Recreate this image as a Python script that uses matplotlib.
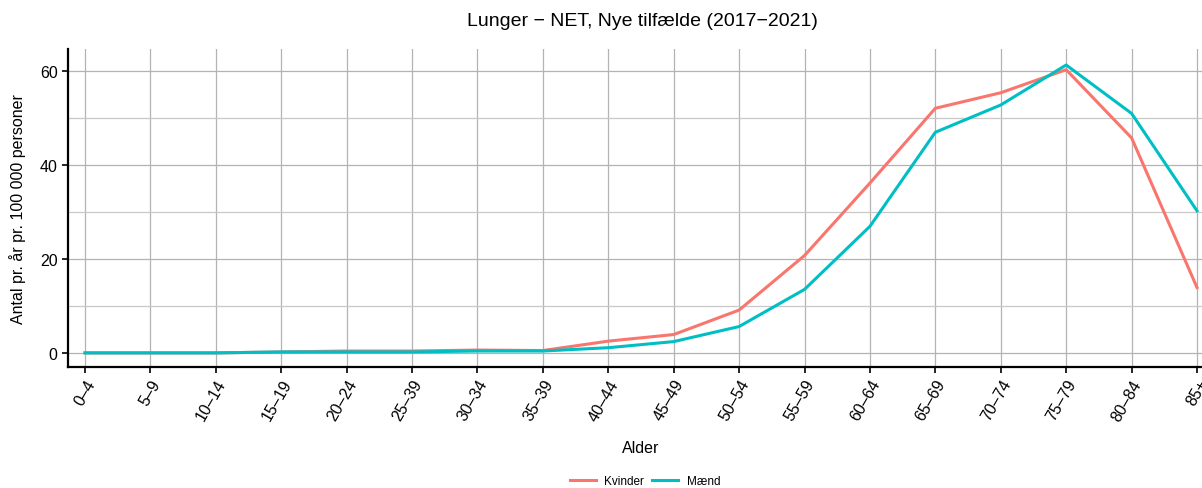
import matplotlib.pyplot as plt
from matplotlib.ticker import MultipleLocator

plt.rcParams['font.family'] = ['Liberation Sans', 'DejaVu Sans']

# age groups (25-39 is how it reads on the original axis)
ages = ['0–4', '5–9', '10–14', '15–19', '20–24', '25–39', '30–34', '35–39',
        '40–44', '45–49', '50–54', '55–59', '60–64', '65–69', '70–74',
        '75–79', '80–84', '85+']
kvinder = [0.0, 0.0, 0.0, 0.2, 0.4, 0.4, 0.6, 0.5, 2.5, 3.9, 9.1, 20.7,
           36.1, 52.0, 55.3, 60.2, 45.7, 13.9]
maend = [0.0, 0.0, 0.0, 0.2, 0.2, 0.2, 0.4, 0.4, 1.1, 2.4, 5.6, 13.5,
         26.9, 46.9, 52.7, 61.2, 50.9, 30.2]

W, H = 1202, 489
fig = plt.figure(figsize=(W / 100, H / 100), dpi=100)
# axes box in pixels: left 68, right 1214 (runs past the edge), top 50, bottom 368
ax = fig.add_axes([68 / W, 1 - 368 / H, (1214 - 68) / W, (368 - 50) / H])

x = list(range(len(ages)))
ax.plot(x, kvinder, color='#F8766D', lw=2.2, label='Kvinder', zorder=3)
ax.plot(x, maend, color='#00BFC4', lw=2.2, label='Mænd', zorder=3)

ax.set_xlim(-0.26, len(ages) - 1 + 0.26)
ax.set_ylim(-3.0, 64.6)
ax.set_xticks(x)
ax.set_xticklabels(ages, rotation=60, ha='right', rotation_mode='anchor', fontsize=11.5)
ax.yaxis.set_major_locator(MultipleLocator(20))
ax.yaxis.set_minor_locator(MultipleLocator(10))
ax.tick_params(axis='y', labelsize=11.5, length=4, width=1.2, which='major')
ax.tick_params(axis='y', which='minor', length=0)
ax.tick_params(axis='x', length=4, width=1.2, pad=3)

ax.grid(True, which='major', color='#b3b3b3', lw=0.9)
ax.grid(True, which='minor', axis='y', color='#c8c8c8', lw=0.9)
ax.set_axisbelow(True)

for s in ['top', 'right']:
    ax.spines[s].set_visible(False)
for s in ['left', 'bottom']:
    ax.spines[s].set_linewidth(1.6)
    ax.spines[s].set_color('black')

ax.set_xlabel('Alder', fontsize=11.5, labelpad=12)
ax.set_ylabel('Antal pr. år pr. 100 000 personer', fontsize=11.5, labelpad=10)
fig.text(642 / W, 1 - 21 / H, 'Lunger − NET, Nye tilfælde (2017−2021)',
         ha='center', va='center', fontsize=14)

fig.legend(loc='center', bbox_to_anchor=(645 / W, 1 - 482 / H), ncol=2,
           frameon=False, fontsize=8.5, handlelength=2.2, columnspacing=0.7,
           handletextpad=0.7)

fig.savefig('out.png', dpi=100)
